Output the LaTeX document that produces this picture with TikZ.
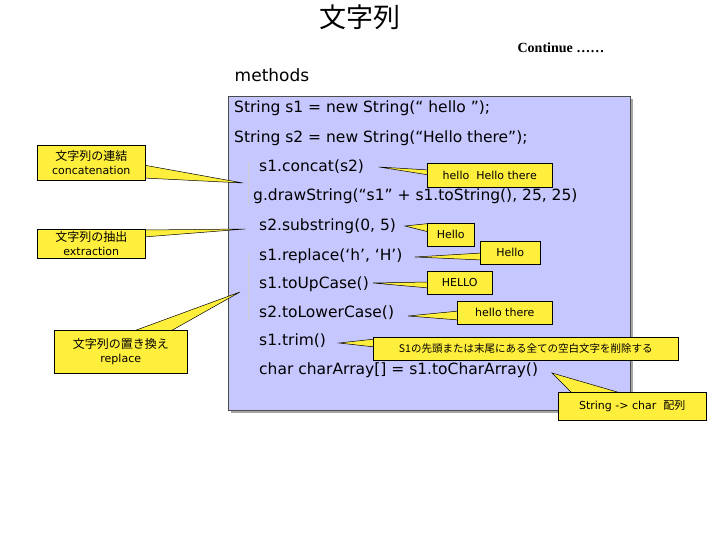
\documentclass[tikz,border=0pt]{standalone}
\usepackage{fontspec}
\usetikzlibrary{calc}
\setmainfont{DejaVu Sans}
\newfontfamily\cjk{Noto Sans CJK JP}
\newfontfamily\serifb{Liberation Serif}
\pgfdeclarelayer{bg}\pgfdeclarelayer{wedge}
\pgfsetlayers{bg,wedge,main}
\tikzset{
 code/.style={anchor=west,inner sep=0pt,font=\fontsize{15.5}{17}\selectfont},
 call/.style={draw=black,fill=yellow!75!white!95!orange,line width=0.5pt,inner sep=0pt,font=\fontsize{11}{14}\selectfont,align=center},
 wedgest/.style={draw=black,fill=yellow!75!white!95!orange,line width=0.5pt},
 sep/.style={draw=gray!40,line width=1pt}
}
\begin{document}
\begin{tikzpicture}[x=1pt,y=-1pt]
\useasboundingbox (0,0) rectangle (720,540);
\node[font=\cjk\fontsize{27}{30}\selectfont] (title) at (360,17) {文字列};
\node[font=\serifb\bfseries\fontsize{14}{16}\selectfont] (cont) at (561,48) {Continue ……};
\node[font=\fontsize{17}{20}\selectfont] (meth) at (272,75) {methods};
\begin{pgfonlayer}{bg}
\fill[gray!70] (231,99) rectangle (633,413);
\node[draw=gray!60!black,fill=blue!22!white,minimum width=402pt,minimum height=314pt,anchor=north west,inner sep=0pt] (main) at (228,96) {};
\draw[sep] (248,162) -- (248,205);
\draw[sep] (248,253) -- (248,320);
\end{pgfonlayer}
\node[code] (l1) at (234,108) {String s1 = new String(“ hello ”);};
\node[code] (l2) at (234,138) {String s2 = new String(“Hello there”);};
\node[code] (l3) at (259,167) {s1.concat(s2)};
\node[code] (l4) at (253,196) {g.drawString(“s1” + s1.toString(), 25, 25)};
\node[code] (l5) at (259,226) {s2.substring(0, 5)};
\node[code] (l6) at (259,256) {s1.replace(‘h’, ‘H’)};
\node[code] (l7) at (259,284) {s1.toUpCase()};
\node[code] (l8) at (259,313) {s2.toLowerCase()};
\node[code] (l9) at (259,341) {s1.trim()};
\node[code] (l10) at (259,370) {char charArray[] = s1.toCharArray()};
% left callouts
\node[call,minimum width=108pt,minimum height=35pt,anchor=north west] (c1) at (37,145) {{\cjk\fontsize{12}{14}\selectfont 文字列の連結}\\concatenation};
\node[call,minimum width=108pt,minimum height=29pt,anchor=north west] (c2) at (37,229) {{\cjk\fontsize{12}{14}\selectfont 文字列の抽出}\\extraction};
\node[call,minimum width=133pt,minimum height=43pt,anchor=north west] (c3) at (54,330) {{\cjk\fontsize{12}{14}\selectfont 文字列の置き換え}\\replace};
% right callouts
\node[call,minimum width=125pt,minimum height=24pt,anchor=north west] (r1) at (427,163) {hello\ \ Hello there};
\node[call,minimum width=47pt,minimum height=23pt,anchor=north west] (r2) at (427,223) {Hello};
\node[call,minimum width=60pt,minimum height=23pt,anchor=north west] (r3) at (480,241) {Hello};
\node[call,minimum width=65pt,minimum height=23pt,anchor=north west] (r4) at (427,271) {HELLO};
\node[call,minimum width=95pt,minimum height=23pt,anchor=north west] (r5) at (457,301) {hello there};
\node[call,minimum width=305pt,minimum height=23pt,anchor=north west,font=\cjk\fontsize{10.5}{12}\selectfont] (r6) at (373,337) {S1の先頭または末尾にある全ての空白文字を削除する};
\node[call,minimum width=148pt,minimum height=28pt,anchor=north west] (r7) at (558,392) {String -> char\ \ {\cjk 配列}};
\coordinate (t1) at (243,183);
\coordinate (t2) at (245,229);
\coordinate (t3) at (240,292);
\coordinate (u1) at (379,167);
\coordinate (u2) at (405,226);
\coordinate (u3) at (415,257);
\coordinate (u4) at (373,283);
\coordinate (u5) at (408,316);
\coordinate (u6) at (339,343);
\coordinate (u7) at (552,373);
\begin{pgfonlayer}{wedge}
\draw[wedgest] (t1) -- ($(c1.north east)+(-2,20)$) -- ($(c1.north east)+(-2,33)$) -- cycle;
\draw[wedgest] (t2) -- ($(c2.north east)+(-2,1)$) -- ($(c2.north east)+(-2,8)$) -- cycle;
\draw[wedgest] (t3) -- ($(c3.north west)+(77,2)$) -- ($(c3.north west)+(115,2)$) -- cycle;
\draw[wedgest] (u1) -- ($(r1.north west)+(2,7)$) -- ($(r1.north west)+(2,12)$) -- cycle;
\draw[wedgest] (u2) -- ($(r2.north west)+(2,0.5)$) -- ($(r2.north west)+(2,9)$) -- cycle;
\draw[wedgest] (u3) -- ($(r3.north west)+(2,12)$) -- ($(r3.north west)+(2,19)$) -- cycle;
\draw[wedgest] (u4) -- ($(r4.north west)+(2,11)$) -- ($(r4.north west)+(2,17)$) -- cycle;
\draw[wedgest] (u5) -- ($(r5.north west)+(2,10)$) -- ($(r5.north west)+(2,19)$) -- cycle;
\draw[wedgest] (u6) -- ($(r6.north west)+(2,2)$) -- ($(r6.north west)+(2,10)$) -- cycle;
\draw[wedgest] (u7) -- ($(r7.north west)+(15,2)$) -- ($(r7.north west)+(66,2)$) -- cycle;
\end{pgfonlayer}
\end{tikzpicture}
\end{document}
